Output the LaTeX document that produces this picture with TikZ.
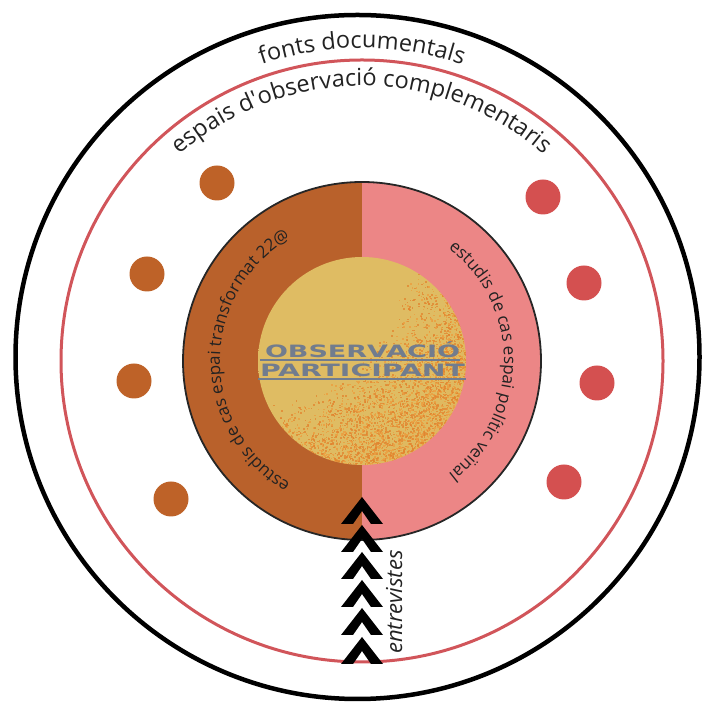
\documentclass[tikz,border=0pt]{standalone}
\usepackage{fontspec}
\setmainfont{Open Sans}[Ligatures=TeXOff]
\newfontfamily\obsfont{DejaVu Sans}
\usetikzlibrary{decorations.text,calc}
\definecolor{ringred}{HTML}{D1555A}
\definecolor{brownL}{HTML}{B9612B}
\definecolor{pinkR}{HTML}{EC8686}
\definecolor{dotB}{HTML}{BE6228}
\definecolor{dotR}{HTML}{D45050}
\definecolor{ybase}{HTML}{DFBC63}
\definecolor{yor}{HTML}{E3A048}
\definecolor{spkA}{HTML}{E3842E}
\definecolor{spkB}{HTML}{EBA042}
\definecolor{obsgray}{HTML}{717C8E}
\definecolor{txt}{HTML}{222222}
\pgfdeclareradialshading{yelsh}{\pgfpoint{0bp}{0bp}}{color(0bp)=(ybase); color(15bp)=(ybase); color(37bp)=(yor); color(50bp)=(yor)}
\begin{document}
\begin{tikzpicture}[x=1pt,y=1pt,
  dotb/.style={circle, fill=dotB, minimum size=35pt, inner sep=0},
  dotr/.style={circle, fill=dotR, minimum size=35pt, inner sep=0},
  arctext/.style={decorate, decoration={text along path, text align=center, text={#1}}},
  chev/.style={fill=black},
  uline/.style={draw=obsgray, line width=1.5pt},
  obs/.style={text=obsgray, inner sep=0, anchor=base, font=\obsfont\bfseries\fontsize{17}{20}\selectfont}]
\useasboundingbox (0,0) rectangle (702,706);
\coordinate (C) at (362,345);
\coordinate (O) at (357.5,349);
% outer circles
\draw[line width=4.5pt] (O) circle (342pt);
\draw[ringred, line width=3pt] (C) circle (301pt);
% inner circle halves
\fill[brownL] (C) ++(90:179pt) arc[start angle=90, end angle=270, radius=179pt] -- cycle;
\fill[pinkR] (C) ++(90:179pt) arc[start angle=90, end angle=-90, radius=179pt] -- cycle;
\draw[line width=1.8pt, black!85] (C) circle (179pt);
% yellow core with speckles
\begin{scope}
\clip (C) circle (104pt);
\shade[shading=yelsh] ($(C)+(-40,40)$) circle (210pt);
\pgfmathsetseed{42}
\foreach \i in {1,...,12000}{
  \pgfmathsetmacro\ux{rnd*2-1}
  \pgfmathsetmacro\uy{rnd*2-1}
  \pgfmathsetmacro\w{(\ux-\uy)*0.8+0.05+0.35*(\ux*\ux+\uy*\uy)}
  \pgfmathtruncatemacro\keep{rnd<\w ? 1 : 0}
  \pgfmathtruncatemacro\col{rnd<0.55 ? 1 : 0}
  \ifnum\keep=1
    \ifnum\col=1
      \fill[spkA, opacity=0.75] (362+104*\ux,345+104*\uy) rectangle ++(1.6,1.6);
    \else
      \fill[spkB, opacity=0.85] (362+104*\ux,345+104*\uy) rectangle ++(1.5,1.5);
    \fi
  \fi
}
\end{scope}
% dots
\node[dotb] (b1) at (217,523) {};
\node[dotb] (b2) at (147,432) {};
\node[dotb] (b3) at (134,325) {};
\node[dotb] (b4) at (171,207) {};
\node[dotr] (r1) at (543,509) {};
\node[dotr] (r2) at (584,423) {};
\node[dotr] (r3) at (597,323) {};
\node[dotr] (r4) at (564,224) {};
% arc texts
\path[arctext={|\color{txt}\fontsize{23.5}{28}\selectfont|fonts documentals}]
  (C) ++(125:313pt) arc[start angle=125, end angle=55, radius=313pt];
\path[arctext={|\color{txt}\fontsize{23.5}{28}\selectfont|espais d'observació complementaris}]
  (C) ++(150:275pt) arc[start angle=150, end angle=30, radius=275pt];
\path[arctext={|\color{txt}\fontsize{17}{20}\selectfont|estudis de cas espai transformat 22@}]
  (C) ++(255:142pt) arc[start angle=255, end angle=105, radius=142pt];
\path[arctext={|\color{txt}\fontsize{17}{20}\selectfont|estudis de cas espai polític veïnal}]
  (C) ++(75:142pt) arc[start angle=75, end angle=-75, radius=142pt];
% central label
\node[obs] (obs1) at (362.5,348) {\resizebox{195pt}{\height}{OBSERVACI\'O}};
\node[obs] (obs2) at (362.5,329) {\resizebox{205pt}{\height}{PARTICIPANT}};
\draw[uline] ([xshift=-5pt,yshift=-2pt]obs1.base west) -- ([xshift=0pt,yshift=-2pt]obs1.base east);
\draw[uline] ([xshift=-2pt,yshift=-2pt]obs2.base west) -- ([xshift=1pt,yshift=-2pt]obs2.base east);
% chevrons
\foreach \ya in {209,181,154,126,98,69}{
  \fill[chev] (341,\ya-27) -- (362,\ya) -- (383,\ya-27) -- (371,\ya-27) -- (362,\ya-14) -- (353,\ya-27) -- cycle;
}
\node[rotate=90, anchor=base, inner sep=0, text=txt, font=\itshape\fontsize{22}{26}\selectfont] (entrev) at (402,104) {entrevistes};
\end{tikzpicture}
\end{document}
